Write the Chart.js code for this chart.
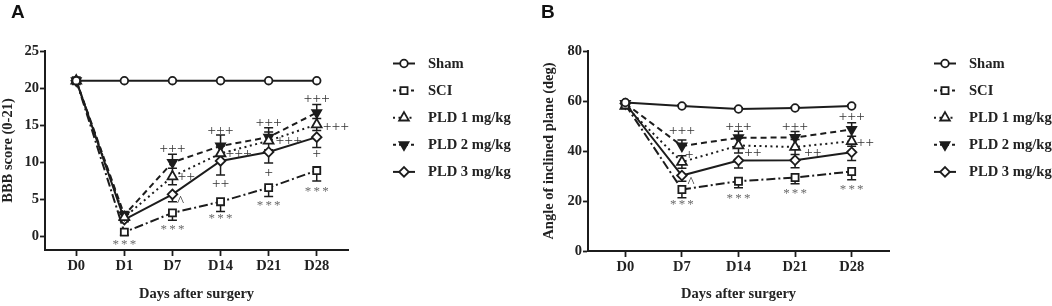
<!DOCTYPE html>
<html><head><meta charset="utf-8">
<script src="https://cdn.jsdelivr.net/npm/chart.js@4/dist/chart.umd.min.js"></script>
<style>
html,body{margin:0;padding:0;background:#fff;}
#wrap{position:relative;width:1052px;height:306px;overflow:hidden;background:#fff;}
.panel{position:absolute;top:0;height:306px;width:526px;}
.lbl{position:absolute;font:bold 19px "Liberation Sans",Arial,sans-serif;color:#111;line-height:22px;}
</style></head><body>
<div id="wrap">
 <div class="panel" style="left:0"><canvas id="cA"></canvas></div>
 <div class="panel" style="left:526px"><canvas id="cB"></canvas></div>
 <div class="lbl" style="left:11px;top:1px">A</div>
 <div class="lbl" style="left:541px;top:1px">B</div>
</div>
<script>
// ---------- data ----------
const seriesNames = ['Sham', 'SCI', 'PLD 1 mg/kg', 'PLD 2 mg/kg', 'PLD 3 mg/kg'];

// Panel A: BBB score
const daysA = ['D0', 'D1', 'D7', 'D14', 'D21', 'D28'];
const yTicksA = [0, 5, 10, 15, 20, 25];
const shamA = [21, 21, 21, 21, 21, 21];
const sciA  = [21, 0.6, 3.2, 4.7, 6.6, 8.9];
const pld1A = [21, 2.6, 8.1, 11.2, 12.9, 15.1];
const pld2A = [21, 2.9, 10.0, 12.2, 13.4, 16.7];
const pld3A = [21, 2.3, 5.7, 10.2, 11.4, 13.4];
const shamErrA = [0, 0, 0, 0, 0, 0];
const sciErrA  = [0, 0.4, 1.0, 1.3, 1.2, 1.4];
const pld1ErrA = [0, 0.4, 1.1, 1.0, 1.2, 0.8];
const pld2ErrA = [0, 0.5, 1.1, 1.5, 1.25, 1.1];
const pld3ErrA = [0, 0.3, 1.0, 1.9, 1.5, 1.4];
// annotations: [day index, value, text, align]
const annotA = [
  [1, -0.75, '***'], [2, 1.2, '***'], [3, 2.65, '***'], [4, 4.45, '***'], [5, 6.4, '***'],
  [2, 12.0, '+++'], [2.11, 8.1, '++', 'left'], [2.17, 5.0, '^'],
  [3, 14.3, '+++'], [3.11, 11.3, '+++', 'left'], [3, 7.2, '++'],
  [4, 15.5, '+++'], [4.15, 13.0, '+++', 'left'], [4, 8.7, '+'],
  [5, 18.7, '+++'], [5.13, 14.9, '+++', 'left'], [5, 11.3, '+']
];

// Panel B: angle of inclined plane
const daysB = ['D0', 'D7', 'D14', 'D21', 'D28'];
const yTicksB = [0, 20, 40, 60, 80];
const shamB = [59.4, 58.0, 56.8, 57.2, 58.0];
const sciB  = [58.5, 24.6, 27.9, 29.4, 31.8];
const pld1B = [58.0, 35.6, 42.2, 41.6, 43.9];
const pld2B = [59.0, 42.0, 45.3, 45.4, 48.6];
const pld3B = [59.0, 30.2, 36.2, 36.3, 39.5];
const shamErrB = [0.5, 0.5, 0.5, 0.5, 0.5];
const sciErrB  = [0.8, 3.3, 2.6, 2.5, 3.3];
const pld1ErrB = [0.8, 2.5, 3.0, 3.0, 2.0];
const pld2ErrB = [0.8, 2.4, 2.6, 2.4, 2.7];
const pld3ErrB = [0.8, 2.3, 3.0, 3.0, 3.3];
const annotB = [
  [1, 48.5, '+++'], [1.13, 38.8, '+'], [1.16, 28.3, '^'], [1, 19.3, '***'],
  [2, 50.2, '+++'], [2.1, 39.8, '++', 'left'], [2, 21.9, '***'],
  [3, 50.2, '+++'], [3.16, 39.6, '++', 'left'], [3, 23.7, '***'],
  [4, 54.1, '+++'], [4.09, 43.8, '++', 'left'], [4, 25.5, '***']
];

// ---------- styles ----------
const INK = '#1c1c1c';
const SERIF = '"Liberation Serif","Times New Roman",serif';
const seriesStyle = [
  { dash: [],          point: 'circle',   radius: 3.8, fill: '#fff', rot: 0,   err: 'up' },
  { dash: [9, 3, 2, 3], point: 'rect',    radius: 5.0, fill: '#fff', rot: 0,   err: 'down' },
  { dash: [2, 3.5],    point: 'triangle', radius: 5.6, fill: '#fff', rot: 0,   err: 'both' },
  { dash: [6, 4],      point: 'triangle', radius: 5.2, fill: INK,    rot: 180, err: 'up' },
  { dash: [],          point: 'rectRot',  radius: 4.8, fill: '#fff', rot: 0,   err: 'down' }
];

function drawMarker(ctx, st, x, y) {
  ctx.save();
  ctx.fillStyle = st.fill; ctx.strokeStyle = INK; ctx.lineWidth = 1.8; ctx.setLineDash([]);
  if (Chart.helpers && Chart.helpers.drawPoint) {
    Chart.helpers.drawPoint(ctx, { pointStyle: st.point, radius: st.radius, rotation: st.rot, borderWidth: 1.8 }, x, y);
  } else {
    ctx.beginPath(); ctx.arc(x, y, st.radius, 0, Math.PI * 2); ctx.fill(); ctx.stroke();
  }
  ctx.restore();
}

function makeChart(id, cats, yTicks, yMin, yMax, series, errs, annots, yTitle, geo) {
  const datasets = series.map((vals, i) => {
    const st = seriesStyle[i];
    return {
      label: seriesNames[i],
      data: vals.map((v, j) => ({ x: j, y: v })),
      borderColor: INK, borderWidth: 2, borderDash: st.dash,
      pointStyle: st.point, pointRadius: st.radius, pointRotation: st.rot,
      pointBackgroundColor: st.fill, pointBorderColor: INK, pointBorderWidth: 1.8,
      tension: 0, fill: false
    };
  });
  const extras = {
    id: 'extras' + id,
    beforeDatasetsDraw(chart) {
      const ctx = chart.ctx, xs = chart.scales.x, ys = chart.scales.y;
      ctx.save(); ctx.strokeStyle = INK; ctx.lineWidth = 1.5; ctx.setLineDash([]);
      series.forEach((vals, i) => {
        const dir = seriesStyle[i].err;
        vals.forEach((v, j) => {
          const e = errs[i][j]; if (!e) return;
          const x = xs.getPixelForValue(j), y = ys.getPixelForValue(v);
          const ends = [];
          if (dir === 'up' || dir === 'both') ends.push(ys.getPixelForValue(v + e));
          if (dir === 'down' || dir === 'both') ends.push(ys.getPixelForValue(v - e));
          ends.forEach(y2 => {
            ctx.beginPath(); ctx.moveTo(x, y); ctx.lineTo(x, y2);
            ctx.moveTo(x - 4.5, y2); ctx.lineTo(x + 4.5, y2); ctx.stroke();
          });
        });
      });
      ctx.restore();
    },
    afterDatasetsDraw(chart) {
      const ctx = chart.ctx, xs = chart.scales.x, ys = chart.scales.y;
      ctx.save();
      annots.forEach(a => {
        const [ci, val, text, align] = a;
        const x = xs.getPixelForValue(ci), y = ys.getPixelForValue(val);
        const star = text.indexOf('*') >= 0;
        ctx.font = star ? '13px ' + SERIF : '15px ' + SERIF;
        ctx.fillStyle = star ? '#6a6a6a' : '#333';
        ctx.textBaseline = 'alphabetic';
        const gap = star ? 2.2 : 0.3;
        const chars = text.split('');
        const widths = chars.map(c => ctx.measureText(c).width);
        const total = widths.reduce((s, w) => s + w, 0) + gap * (chars.length - 1);
        const m = ctx.measureText(text);
        const base = y + (m.actualBoundingBoxAscent - m.actualBoundingBoxDescent) / 2;
        let cx = align === 'left' ? x : x - total / 2;
        ctx.textAlign = 'left';
        chars.forEach((c, k) => { ctx.fillText(c, cx, base); cx += widths[k] + gap; });
      });
      ctx.restore();
    },
    afterDraw(chart) {
      const ctx = chart.ctx, ca = chart.chartArea;
      ctx.save();
      const sx = ca.right + 56, tx = ca.right + 80;
      seriesNames.forEach((name, i) => {
        const st = seriesStyle[i];
        const y = ca.top + 12.5 + i * 27.1;
        ctx.strokeStyle = INK; ctx.lineWidth = 2;
        ctx.setLineDash(st.dash.length ? [3, 3] : []);
        if (i === 2) ctx.setLineDash([2, 3.5]);
        ctx.beginPath(); ctx.moveTo(sx - 11, y); ctx.lineTo(sx + 11, y); ctx.stroke();
        ctx.setLineDash([]);
        drawMarker(ctx, st, sx, y);
        ctx.fillStyle = '#222'; ctx.font = 'bold 14.6px ' + SERIF;
        ctx.textAlign = 'left'; ctx.textBaseline = 'middle';
        ctx.fillText(name, tx, y + 0.5);
      });
      ctx.restore();
    }
  };
  return new Chart(document.getElementById(id), {
    type: 'line',
    data: { datasets },
    plugins: [extras],
    options: {
      responsive: true, maintainAspectRatio: false, animation: false,
      layout: { padding: { left: 0, top: geo.top, right: geo.right, bottom: 0 } },
      plugins: { legend: { display: false }, tooltip: { enabled: false } },
      scales: {
        x: {
          type: 'linear', min: -geo.xPad, max: cats.length - 1 + geo.xPad,
          afterBuildTicks: s => { s.ticks = cats.map((c, i) => ({ value: i })); },
          afterFit: s => { s.height = geo.xh; },
          ticks: { callback: v => cats[v], color: '#222', font: { family: SERIF, size: 14.5, weight: 'bold' }, padding: 2, maxRotation: 0, autoSkip: false },
          grid: { drawOnChartArea: false, drawTicks: true, tickLength: 6, tickWidth: 1.8, tickColor: INK },
          border: { display: true, color: INK, width: 2 },
          title: { display: true, text: 'Days after surgery', color: '#222', font: { family: SERIF, size: 14.5, weight: 'bold' }, padding: { top: 0, bottom: 3 } }
        },
        y: {
          type: 'linear', min: yMin, max: yMax,
          afterBuildTicks: s => { s.ticks = yTicks.map(v => ({ value: v })); },
          afterFit: s => { s.width = geo.yw; },
          ticks: { color: '#222', font: { family: SERIF, size: 14.5, weight: 'bold' }, padding: 1 },
          grid: { drawOnChartArea: false, drawTicks: true, tickLength: 5, tickWidth: 1.8, tickColor: INK },
          border: { display: true, color: INK, width: 2 },
          title: { display: true, text: yTitle, color: '#222', font: { family: SERIF, size: 14.5, weight: 'bold' }, padding: { top: geo.yTitlePad, bottom: 0 } }
        }
      }
    }
  });
}

makeChart('cA', daysA, yTicksA, -1.8, 25,
  [shamA, sciA, pld1A, pld2A, pld3A],
  [shamErrA, sciErrA, pld1ErrA, pld2ErrA, pld3ErrA],
  annotA, 'BBB score (0-21)',
  { top: 51, right: 178, xh: 56, yw: 45, xPad: 0.65, yTitlePad: 0 });

makeChart('cB', daysB, yTicksB, 0, 80,
  [shamB, sciB, pld1B, pld2B, pld3B],
  [shamErrB, sciErrB, pld1ErrB, pld2ErrB, pld3ErrB],
  annotB, 'Angle of inclined plane (deg)',
  { top: 51, right: 163, xh: 55, yw: 62, xPad: 0.66, yTitlePad: 15 });
</script>
</body></html>
